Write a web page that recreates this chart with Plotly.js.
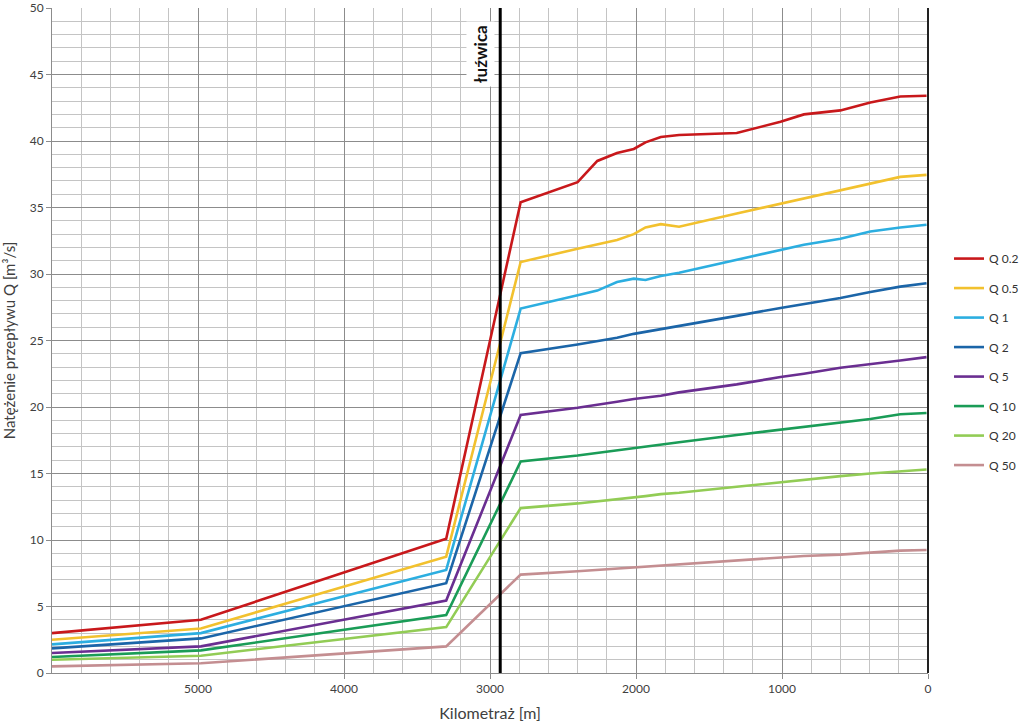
<!DOCTYPE html>
<html>
<head>
<meta charset="utf-8">
<script src="https://cdn.plot.ly/plotly-3.0.1.min.js"></script>
<style>html,body{margin:0;padding:0;background:#fff;}#chart{width:1023px;height:722px;}</style>
</head>
<body>
<div id="chart"></div>
<script>
// Chainage [m]
const km = [6000, 4980, 3300, 2790, 2400, 2265, 2130, 2015, 1935, 1830, 1705, 1310, 1010, 850, 600, 395, 190, 10];

// Discharge series [m3/s]
const q02 = [3.0, 4.0, 10.1, 35.4, 36.9, 38.5, 39.1, 39.4, 39.9, 40.3, 40.45, 40.6, 41.45, 42.0, 42.3, 42.9, 43.35, 43.4];
const q05 = [2.5, 3.35, 8.75, 30.9, 31.9, 32.2, 32.55, 33.0, 33.5, 33.75, 33.55, 34.55, 35.3, 35.7, 36.3, 36.8, 37.3, 37.45];
const q1  = [2.15, 3.0, 7.75, 27.4, 28.4, 28.75, 29.4, 29.65, 29.55, 29.85, 30.1, 31.05, 31.8, 32.2, 32.65, 33.2, 33.5, 33.7];
const q2  = [1.85, 2.6, 6.75, 24.05, 24.7, 24.95, 25.2, 25.5, 25.65, 25.85, 26.1, 26.85, 27.45, 27.75, 28.2, 28.65, 29.05, 29.3];
const q5  = [1.5, 2.0, 5.45, 19.4, 19.95, 20.15, 20.4, 20.6, 20.7, 20.85, 21.1, 21.7, 22.25, 22.5, 22.95, 23.25, 23.5, 23.75];
const q10 = [1.2, 1.7, 4.35, 15.9, 16.35, 16.55, 16.75, 16.9, 17.0, 17.15, 17.35, 17.9, 18.3, 18.5, 18.8, 19.1, 19.45, 19.55];
const q20 = [1.0, 1.3, 3.45, 12.4, 12.75, 12.9, 13.05, 13.2, 13.3, 13.45, 13.55, 14.0, 14.35, 14.5, 14.8, 15.0, 15.15, 15.3];
const q50 = [0.5, 0.73, 2.0, 7.4, 7.65, 7.75, 7.85, 7.95, 8.0, 8.1, 8.2, 8.5, 8.7, 8.8, 8.9, 9.05, 9.2, 9.25];

const seriesNames = ["Q 0.2", "Q 0.5", "Q 1", "Q 2", "Q 5", "Q 10", "Q 20", "Q 50"];
const seriesValues = [q02, q05, q1, q2, q5, q10, q20, q50];
const seriesColors = ["#C8181B", "#F2C12E", "#2CAEE0", "#1B65A8", "#6A2E91", "#1A9C57", "#92CC55", "#C48E91"];

const xTicks = [5000, 4000, 3000, 2000, 1000, 0];
const markerKm = 2930;
const markerLabel = "łuźwica";

const FONT = "Lato, 'Open Sans', sans-serif";

const traces = seriesNames.map((n, i) => ({
  type: "scatter", mode: "lines", name: n, x: km, y: seriesValues[i],
  line: {color: seriesColors[i], width: 2.6}, legendgroup: "g" + i
}));

const layout = {
  width: 1023, height: 722,
  margin: {l: 52, r: 95, t: 8, b: 49, autoexpand: false},
  paper_bgcolor: "#fff", plot_bgcolor: "#fff",
  font: {family: FONT, size: 12, color: "#404040"},
  showlegend: true,
  legend: {x: 1.024, xanchor: "left", y: 0.645, yanchor: "top",
    font: {family: FONT, size: 12, color: "#333"},
    itemwidth: 30, tracegroupgap: 10.5, traceorder: "grouped", bgcolor: "rgba(0,0,0,0)"},
  xaxis: {
    range: [6000, 0], autorange: false,
    tickvals: xTicks, ticktext: xTicks.map(String),
    showgrid: true, gridcolor: "#8c8c8c", gridwidth: 1,
    minor: {dtick: 200, showgrid: true, gridcolor: "#c4c4c4", gridwidth: 1, ticks: ""},
    showline: true, linecolor: "#8c8c8c", linewidth: 1,
    ticks: "outside", ticklen: 5, tickcolor: "#8c8c8c",
    zeroline: true, zerolinecolor: "#222", zerolinewidth: 1.5,
    tickfont: {size: 12, color: "#404040"},
    title: {text: "Kilometraż [m]", font: {size: 16, color: "#404040"}, standoff: 12}
  },
  yaxis: {
    range: [0, 50], autorange: false, dtick: 5, tick0: 0,
    showgrid: true, gridcolor: "#8c8c8c", gridwidth: 1,
    minor: {dtick: 1, showgrid: true, gridcolor: "#c4c4c4", gridwidth: 1, ticks: ""},
    showline: true, linecolor: "#8c8c8c", linewidth: 1,
    ticks: "outside", ticklen: 5, tickcolor: "#8c8c8c",
    zeroline: false,
    tickfont: {size: 12, color: "#404040"},
    title: {text: "Natężenie przepływu Q [m³/s]", font: {size: 15, color: "#404040"}, standoff: 10}
  },
  shapes: [{type: "line", xref: "x", yref: "paper", x0: markerKm, x1: markerKm, y0: 0, y1: 1,
    line: {color: "#000", width: 3}}],
  annotations: [{xref: "x", yref: "y", x: 3065, y: 46.5, text: "<b>" + markerLabel + "</b>",
    textangle: -90, showarrow: false, bgcolor: "#fff", borderpad: 3,
    font: {family: FONT, size: 17, color: "#111"}}]
};

Plotly.newPlot("chart", traces, layout, {displayModeBar: false, staticPlot: true});
</script>
</body>
</html>
